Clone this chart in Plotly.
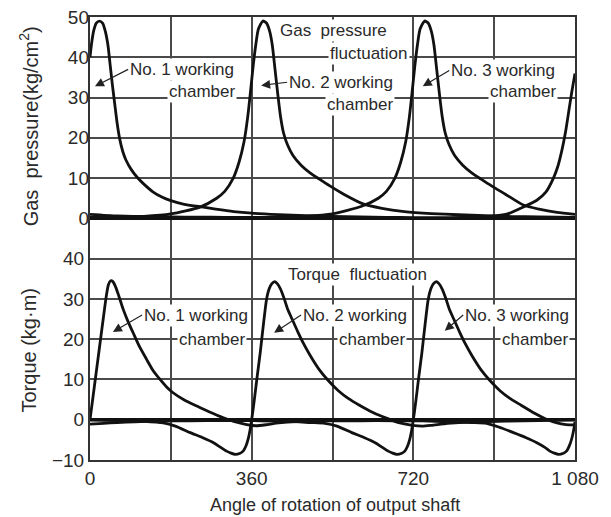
import plotly.graph_objects as go

# ---------------- data ----------------
angle_ticks = [0, 360, 720, 1080]
angle_labels = ["0", "360", "720", "1 080"]
angle_minor_grid = [180, 540, 900]
pressure_ticks = [0, 10, 20, 30, 40, 50]
torque_ticks = [-10, 0, 10, 20, 30, 40]
torque_labels = ["\u221210", "0", "10", "20", "30", "40"]

# Gas pressure (kg/cm2)
p1_angle = [0, 3, 8, 14, 21, 28, 34, 40, 45, 50, 55, 60, 66, 73, 80, 92, 105, 120, 140, 160, 180,
            210, 245, 280, 320, 360, 420, 480, 540, 600, 660, 720, 800, 860, 900, 930, 965, 995,
            1015, 1032, 1042, 1051, 1059, 1066, 1073, 1080]
p1_value = [40, 43, 46.5, 48.5, 49, 48.5, 46.5, 43, 38, 33, 28.5, 24, 19.8, 16.6, 14.5, 12.1, 10.2, 8.5, 6.6, 5.3, 4.4,
            3.5, 2.9, 2.3, 1.7, 1.3, 0.95, 0.7, 0.5, 0.35, 0.25, 0.2, 0.2, 0.35, 0.6, 1.1, 2.8, 4.5,
            6.5, 10, 13, 17, 21.5, 26.5, 31.5, 36]

p2_angle = [0, 60, 120, 180, 245, 282, 300, 319, 332, 343, 351, 357, 363, 369, 375, 385, 393, 400,
            406, 412, 418, 424, 431, 440, 452, 470, 490, 510, 535, 565, 608, 650, 700, 760, 820,
            880, 940, 1000, 1080]
p2_value = [0.25, 0.3, 0.5, 1.1, 2.8, 5, 6.7, 10, 14, 19, 25, 31, 37.5, 43, 47, 49, 48.5, 46.5,
            43, 37, 31, 25.5, 21.2, 18.2, 15.6, 13.2, 11.3, 9.8, 8.0, 6.0, 3.6, 2.5, 1.7, 1.2, 0.9,
            0.65, 0.45, 0.35, 0.25]

p3_angle = [0, 60, 120, 180, 240, 300, 360, 420, 480, 540, 605, 642, 660, 679, 692, 703, 711, 717,
            723, 729, 735, 745, 753, 760, 766, 772, 778, 784, 791, 800, 812, 830, 850, 870, 895,
            925, 965, 1000, 1040, 1080]
p3_value = [1.0, 0.6, 0.45, 0.35, 0.3, 0.25, 0.25, 0.3, 0.5, 1.1, 3.0, 5, 6.7, 10, 14, 19, 25, 31,
            37.5, 43, 47, 49, 48.5, 46.5, 43, 37, 31, 25.5, 21.2, 18.2, 15.6, 13.2, 11.3, 9.8, 8.0,
            6.0, 3.3, 2.3, 1.5, 1.0]

# Torque (kg*m)
t1_angle = [0, 10, 20, 30, 36, 41, 46, 51, 57, 64, 74, 85, 96, 110, 126, 140, 156, 170, 185, 210,
            238, 265, 297, 320, 349, 370, 395, 420, 460, 520, 600, 680, 740, 800, 850, 883, 910,
            943, 970, 995, 1012, 1024, 1034, 1043, 1053, 1061, 1068, 1073, 1077, 1080]
t1_value = [0, 8.5, 17, 25.5, 30.5, 33.5, 34.5, 34.3, 33, 30.8, 27.4, 24.3, 21.6, 18.2, 15, 12.3, 10, 8.2, 6.7, 4.9,
            3.4, 2, 0.5, -0.4, -1.2, -1.5, -1.2, -0.8, -0.45, -0.3, -0.25, -0.25, -0.3, -0.5, -0.7, -0.9, -1.8,
            -3.2, -4.4, -5.7, -6.8, -7.8, -8.3, -8.6, -8.4, -7.8, -6.3, -4.6, -2.6, -0.5]

t2_angle = [0, 60, 120, 163, 190, 223, 250, 275, 290, 304, 314, 323, 333, 341, 347, 352, 356, 360,
            366, 372, 379, 386, 393, 399, 405, 411, 417, 424, 432, 440, 450, 462, 475, 490, 510,
            530, 553, 575, 600, 630, 660, 690, 718, 740, 760, 796, 850, 926, 1000, 1080]
t2_value = [-0.1, -0.2, -0.4, -0.8, -1.6, -3.2, -4.4, -5.7, -6.8, -7.8, -8.3, -8.6, -8.4, -7.8, -6.6, -4.9, -2.8, 0,
            5, 10.5, 16.6, 23.5, 29.8, 32.5, 33.8, 34.3, 33.8, 32.5, 30.2, 27.5, 25, 22, 19, 16, 12.5,
            9.8, 7.2, 5.3, 3.6, 1.8, 0.4, -0.8, -1.4, -1.6, -1.4, -0.9, -0.5, -0.35, -0.2, -0.1]

t3_angle = [0, 30, 60, 100, 150, 220, 300, 380, 440, 490, 523, 550, 583, 610, 635, 650, 664, 674,
            683, 693, 701, 707, 712, 716, 720, 726, 732, 739, 746, 753, 759, 765, 771, 777, 784,
            792, 800, 810, 822, 835, 850, 870, 890, 913, 935, 960, 990, 1015, 1040, 1060, 1080]
t3_value = [-1.1, -0.9, -0.7, -0.5, -0.35, -0.25, -0.2, -0.25, -0.4, -0.7, -0.9, -1.6, -3.2, -4.4, -5.7, -6.8, -7.8, -8.3,
            -8.6, -8.4, -7.8, -6.6, -4.9, -2.8, 0, 5, 10.5, 16.6, 23.5, 29.8, 32.5, 33.8, 34.3, 33.8, 32.5,
            30.2, 27.5, 25, 22, 19, 16, 12.5, 9.8, 7.2, 5.3, 3.6, 1.6, 0.2, -0.8, -1.2, -1.3]

FONT = "Liberation Sans Narrow, Arial Narrow, Liberation Sans, Arial, sans-serif"
TXT = "#2a2a2a"
GRID = "#4a4a4a"

fig = go.Figure()
line = dict(color="#111111", width=2.8, shape="spline", smoothing=0.6)
for xa, ya in [(p1_angle, p1_value), (p2_angle, p2_value), (p3_angle, p3_value)]:
    fig.add_trace(go.Scatter(x=xa, y=ya, mode="lines", line=line, yaxis="y2",
                             showlegend=False, hoverinfo="skip"))
for xa, ya in [(t1_angle, t1_value), (t2_angle, t2_value), (t3_angle, t3_value)]:
    fig.add_trace(go.Scatter(x=xa, y=ya, mode="lines", line=line, yaxis="y",
                             showlegend=False, hoverinfo="skip"))

axis_common = dict(showgrid=True, gridcolor=GRID, gridwidth=1.5, ticks="",
                   tickfont=dict(family=FONT, size=19, color=TXT))

fig.update_layout(
    width=611, height=517,
    margin=dict(l=90, r=36, t=17, b=57),
    paper_bgcolor="white", plot_bgcolor="white",
    font=dict(family=FONT, color=TXT),
    xaxis=dict(range=[0, 1080], tickmode="array", tickvals=angle_ticks, ticktext=angle_labels,
               minor=dict(tickmode="array", tickvals=angle_minor_grid, showgrid=True,
                          gridcolor=GRID, gridwidth=1.5, ticks=""),
               showline=True, mirror=True, linecolor="#333333", linewidth=2, zeroline=False,
               automargin=False, **axis_common),
    yaxis=dict(range=[-10, 100], tickmode="array", tickvals=torque_ticks, ticktext=torque_labels,
               showline=True, mirror=True, linecolor="#333333", linewidth=2, automargin=False,
               zeroline=True, zerolinecolor="#111111", zerolinewidth=2.6, **axis_common),
    yaxis2=dict(range=[-60, 50], overlaying="y", side="left", tickmode="array", automargin=False,
                tickvals=pressure_ticks, zeroline=True, zerolinecolor="#111111", zerolinewidth=2.6,
                **axis_common),
)

def label(text, x, y, yref, xanchor="right", size=17):
    fig.add_annotation(text=text, x=x, y=y, xref="x", yref=yref, xanchor=xanchor, yanchor="middle",
                       showarrow=False, bgcolor="white", borderpad=1,
                       font=dict(family=FONT, size=size, color=TXT))

def pointed_label(text, hx, hy, tx, ty, yref, size=17):
    # text box starts (left edge) at the tail point, arrow goes to the head point
    fig.add_annotation(text=text, x=hx, y=hy, ax=tx, ay=ty, xref="x", yref=yref, axref="x", ayref=yref,
                       xanchor="left", yanchor="middle", showarrow=True, arrowhead=2, arrowsize=1.5,
                       arrowwidth=1.2, arrowcolor="#222222", standoff=0, bgcolor="white", borderpad=1,
                       font=dict(family=FONT, size=size, color=TXT))

# Pressure panel labels
pointed_label("No. 1 working", 11, 32.8, 85, 37, "y2")
label("chamber", 327, 31.5, "y2")
pointed_label("No. 2 working", 381, 33, 439, 33.8, "y2")
label("chamber", 679, 28.3, "y2")
pointed_label("No. 3 working", 741, 32.8, 800, 36.7, "y2")
label("chamber", 1042, 31.5, "y2")
label("Gas  pressure", 542, 46.7, "y2", xanchor="center")
label("fluctuation", 621, 41, "y2", xanchor="center")

# Torque panel labels
label("Torque  fluctuation", 595, 36, "y", xanchor="center")
pointed_label("No. 1 working", 51, 21.8, 116, 26, "y")
label("chamber", 350, 19.9, "y")
pointed_label("No. 2 working", 410, 21.6, 470, 26, "y")
label("chamber", 706, 19.9, "y")
pointed_label("No. 3 working", 790, 22.1, 831, 26, "y")
label("chamber", 1069, 19.9, "y")

# Axis titles
fig.add_annotation(text="Gas  pressure(kg/cm<sup>2</sup>)", x=-0.125, y=0.754, xref="paper", yref="paper",
                   textangle=-90, showarrow=False, xanchor="center", yanchor="middle",
                   font=dict(family=FONT, size=20, color=TXT))
fig.add_annotation(text="Torque (kg\u00b7m)", x=-0.125, y=0.248, xref="paper", yref="paper",
                   textangle=-90, showarrow=False, xanchor="center", yanchor="middle",
                   font=dict(family=FONT, size=20, color=TXT))
fig.add_annotation(text="Angle of rotation of output shaft", x=0.505, y=-0.102, xref="paper", yref="paper",
                   showarrow=False, xanchor="center", yanchor="middle",
                   font=dict(family=FONT, size=18, color=TXT))

fig.write_html("out.html", config={"displayModeBar": False},
               post_script="document.body.style.margin='0';")
